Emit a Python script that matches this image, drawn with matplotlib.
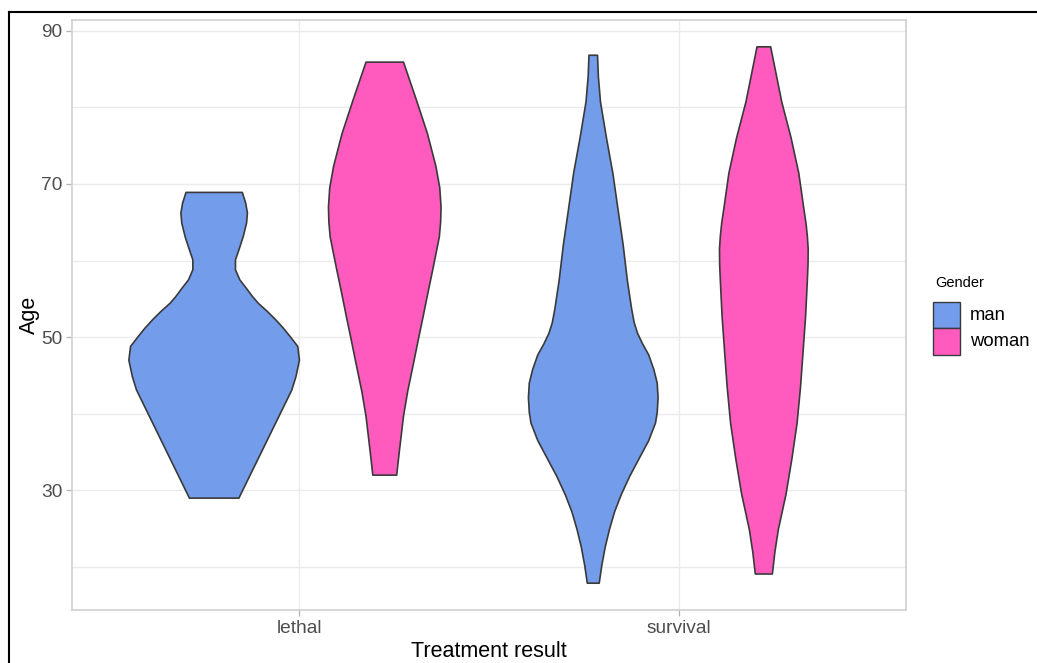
import numpy as np
import matplotlib
matplotlib.use("Agg")
import matplotlib.pyplot as plt
from matplotlib.patches import Rectangle
from matplotlib.lines import Line2D

plt.rcParams['font.family'] = ['Liberation Sans', 'DejaVu Sans']

# categories / groups
results = ['lethal', 'survival']
genders = ['man', 'woman']
gender_colors = {'man': '#739CEB', 'woman': '#FF5BBE'}

# violin outlines: age levels and relative density (1 = widest)
man_lethal_age = [29.0, 43.1, 44.9, 47.0, 48.8, 50.1, 51.2, 52.3, 53.4, 54.4,
                  55.3, 56.2, 57.5, 58.8, 60.1, 61.4, 63.1, 64.9, 66.2, 67.5, 68.9]
man_lethal_dens = [0.29, 0.91, 0.96, 1.00, 0.98, 0.89, 0.81, 0.72, 0.62, 0.52,
                   0.45, 0.39, 0.30, 0.25, 0.25, 0.29, 0.34, 0.38, 0.39, 0.37, 0.33]

woman_lethal_age = [32.0, 35.0, 39.7, 43.0, 46.2, 49.5, 52.7, 56.0, 59.2, 63.1,
                    65.0, 67.0, 69.5, 72.3, 76.6, 81.0, 85.9]
woman_lethal_dens = [0.14, 0.17, 0.22, 0.27, 0.33, 0.39, 0.45, 0.51, 0.57, 0.64,
                     0.655, 0.66, 0.645, 0.60, 0.50, 0.37, 0.22]

man_survival_age = [17.9, 20.2, 22.6, 24.9, 27.2, 29.5, 31.9, 34.2, 36.5, 38.8,
                    40.2, 42.1, 44.0, 45.8, 47.7, 49.1, 50.5, 51.9, 53.7, 57.4,
                    62.1, 66.7, 71.4, 76.0, 80.7, 84.0, 86.8]
man_survival_dens = [0.07, 0.10, 0.14, 0.19, 0.25, 0.33, 0.43, 0.54, 0.65, 0.73,
                     0.75, 0.76, 0.75, 0.71, 0.65, 0.58, 0.52, 0.48, 0.45, 0.40,
                     0.35, 0.29, 0.23, 0.155, 0.085, 0.06, 0.05]

woman_survival_age = [19.1, 22.0, 24.9, 29.5, 34.2, 38.8, 43.5, 48.1, 52.8, 57.4,
                      59.5, 61.5, 63.2, 64.8, 66.7, 71.4, 76.0, 80.7, 87.9]
woman_survival_dens = [0.10, 0.13, 0.17, 0.26, 0.33, 0.39, 0.43, 0.46, 0.49, 0.51,
                       0.518, 0.52, 0.51, 0.495, 0.47, 0.41, 0.32, 0.21, 0.08]

y_ticks = [30, 50, 70, 90]
y_minor = [20, 40, 60, 80]

violins = {
    ('lethal', 'man'): (man_lethal_age, man_lethal_dens),
    ('lethal', 'woman'): (woman_lethal_age, woman_lethal_dens),
    ('survival', 'man'): (man_survival_age, man_survival_dens),
    ('survival', 'woman'): (woman_survival_age, woman_survival_dens),
}

W, H = 1037, 663
fig = plt.figure(figsize=(W / 100, H / 100), dpi=100)


def fx(x):
    return x / W


def fy(y):
    return 1 - y / H


ax = fig.add_axes([fx(72), fy(610), fx(906 - 72), (610 - 20) / H])

# grid first
for v in y_ticks + y_minor:
    ax.axhline(v, color='#EBEBEB', lw=1.0, zorder=0)
for i in range(len(results)):
    ax.axvline(i + 1, color='#EBEBEB', lw=1.0, zorder=0)

dodge = 0.225
max_half = 0.225
for i, res in enumerate(results):
    for j, g in enumerate(genders):
        ages, dens = violins[(res, g)]
        ages = np.array(ages)
        half = np.array(dens) * max_half
        c = i + 1 + (j - 0.5) * 2 * dodge
        xs = np.concatenate([c + half, (c - half)[::-1]])
        ys = np.concatenate([ages, ages[::-1]])
        ax.fill(xs, ys, facecolor=gender_colors[g], edgecolor='#3A3A3A',
                lw=1.2, joinstyle='round', zorder=2)

all_ages = np.concatenate([np.array(a) for a, _ in violins.values()])
span = all_ages.max() - all_ages.min()
ax.set_ylim(all_ages.min() - 0.05 * span, all_ages.max() + 0.05 * span)
ax.set_xlim(0.4, 2.6)

ax.set_yticks(y_ticks)
ax.set_yticklabels([str(t) for t in y_ticks])
ax.set_xticks([1, 2])
ax.set_xticklabels(results)
ax.tick_params(axis='both', length=4, width=0.9, color='#B3B3B3',
               labelcolor='#4D4D4D', labelsize=13.8, pad=3)

for s in ax.spines.values():
    s.set_color('#D3D3D3')
    s.set_linewidth(1.3)

ax.set_xlabel('Treatment result', fontsize=15.5, color='black', labelpad=3)
ax.set_ylabel('Age', fontsize=15.5, color='black', labelpad=1)

# legend
fig.text(fx(935), fy(283), 'Gender', fontsize=10.5, va='center', ha='left')
key_w = 26.7 / W
key_h = 26.7 / H
for k, (g, ytop) in enumerate(zip(genders, [301.7, 328.3])):
    fig.add_artist(Rectangle((fx(933.3), fy(ytop + 26.7)), key_w, key_h,
                             transform=fig.transFigure, facecolor=gender_colors[g],
                             edgecolor='#3A3A3A', lw=1.0))
    fig.text(fx(970), fy(ytop + 13.3), g, fontsize=13.3, va='center', ha='left')

# outer frame (left and top only visible)
fig.add_artist(Line2D([fx(9), fx(9)], [0, fy(12)], color='black', lw=1.5,
                      transform=fig.transFigure))
fig.add_artist(Line2D([fx(9), 1], [fy(12), fy(12)], color='black', lw=1.5,
                      transform=fig.transFigure))

fig.savefig('out.png', dpi=100)
